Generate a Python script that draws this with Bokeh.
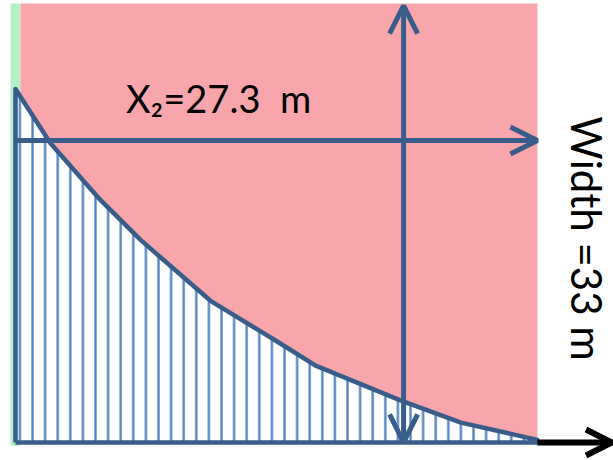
import numpy as np
from bokeh.plotting import figure
from bokeh.models import Range1d, Arrow, OpenHead, Label
from bokeh.embed import file_html
from bokeh.resources import INLINE

# Bed profile of the cross section (metres): distance from left bank vs. depth line
profile_x = [0.0, 1.83, 4.45, 6.54, 10.2, 13.6, 15.7, 20.1, 23.3, 27.3]
profile_y = [26.7, 22.6, 18.3, 15.3, 10.7, 7.7, 5.8, 3.2, 1.5, 0.2]

x2_length = 27.3      # X2 measured along the horizontal line
width_m = 33.0        # total width measured along the vertical line
axis_end = 31.2       # tip of the base axis arrow
measure_x = 20.3      # station of the vertical measuring line
measure_y = 22.8      # level of the horizontal measuring line

x2_label = "X\u2082=27.3\u00a0 m"
width_label = "Width =33 m"

DARK_BLUE = "#385D8A"
HATCH_BLUE = "#4F81BD"
PINK = "#F8A6AB"
GREEN = "#B4F0C8"

p = figure(width=613, height=460, output_backend="svg", toolbar_location=None,
           x_range=Range1d(-0.785, 31.28), y_range=Range1d(-1.36, 33.38),
           x_axis_location=None, y_axis_location=None,
           min_border=0, outline_line_color=None,
           background_fill_color="white", border_fill_color="white")
p.grid.visible = False

# bank strip and water area
p.quad(left=-0.26, right=0.26, bottom=-0.25, top=width_m + 0.15,
       fill_color=GREEN, line_color=None)
p.quad(left=0.26, right=x2_length, bottom=0, top=width_m + 0.15,
       fill_color=PINK, line_color=None)

# hatched region under the bed profile
poly_x = [profile_x[0]] + profile_x + [profile_x[-1], profile_x[0]]
poly_y = [0.0] + profile_y + [0.0, 0.0]
p.patch(poly_x, poly_y, fill_color="white", line_color=None,
        hatch_pattern="vertical_line", hatch_color=HATCH_BLUE,
        hatch_weight=2.3, hatch_scale=12.6)
p.line(poly_x, poly_y, line_color=DARK_BLUE, line_width=4.5, line_join="round")

# base axis continuation
p.add_layout(Arrow(x_start=x2_length, y_start=0, x_end=axis_end, y_end=0,
                   line_color="black", line_width=6,
                   end=OpenHead(size=26, line_color="black", line_width=6)))

# X2 measuring arrow
p.add_layout(Arrow(x_start=0, y_start=measure_y, x_end=x2_length, y_end=measure_y,
                   line_color=DARK_BLUE, line_width=5,
                   end=OpenHead(size=27, line_color=DARK_BLUE, line_width=5)))

# width measuring arrow (double headed)
p.add_layout(Arrow(x_start=measure_x, y_start=0, x_end=measure_x, y_end=width_m,
                   line_color=DARK_BLUE, line_width=5,
                   start=OpenHead(size=28, line_color=DARK_BLUE, line_width=5),
                   end=OpenHead(size=28, line_color=DARK_BLUE, line_width=5)))

p.add_layout(Label(x=10.62, y=26.05, text=x2_label, text_font="Lato",
                   text_font_size="38px", text_color="black",
                   text_align="center", text_baseline="alphabetic"))
p.add_layout(Label(x=29.9, y=15.4, text=width_label, text_font="Lato",
                   text_font_size="42px", text_color="black", angle=-np.pi / 2,
                   text_align="center", text_baseline="alphabetic"))

open("out.html", "w").write(file_html(p, INLINE))
